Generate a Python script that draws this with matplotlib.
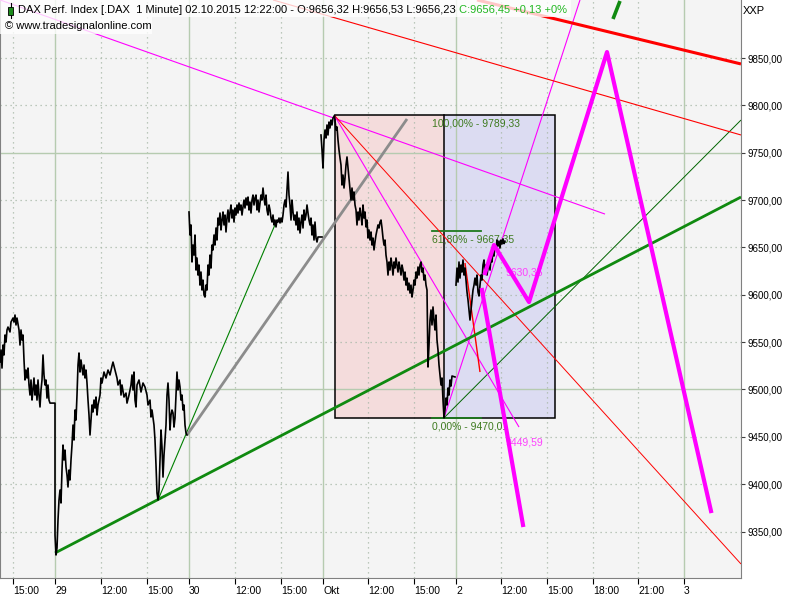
import matplotlib

matplotlib.use("Agg")
import matplotlib.pyplot as plt
from matplotlib.patches import Rectangle

BG_COLOR = "#f4f4f4"
GRID_SOLID = "#b6cbb0"
GRID_DOT = "#a9b9a9"
PRICE_COLOR = "black"
PINK_BOX = "#f4dcdc"
BLUE_BOX = "#dcdcf2"
FIB_TEXT = "#3d7a1e"
FIB_LINE = "#1e7a1e"
MAGENTA = "#ff00ff"
RED = "#ff0000"
GREEN = "#108a10"
GRAY = "#8c8c8c"
FONT = "Liberation Sans"

# x positions are chart slots (one slot ~ 4 minutes of session time)
tickPos = [13, 55, 101, 147, 189, 235, 281, 323, 368, 414, 456, 501, 547, 593, 638, 684]
tickLabels = ["15:00", "29", "12:00", "15:00", "30", "12:00", "15:00", "Okt",
              "12:00", "15:00", "2", "12:00", "15:00", "18:00", "21:00", "3"]
dayLabels = ["29", "30", "Okt", "2", "3"]
priceLevels = [9350, 9400, 9450, 9500, 9550, 9600, 9650, 9700, 9750, 9800, 9850]
solidLevels = [9500, 9750]

# 28./29.09. session (connected)
s1X = [0, 1, 2, 3, 4, 5, 6, 7, 8, 10, 11, 13, 14, 15, 16, 17, 19, 20, 21, 22, 23,
       24, 25, 26, 27, 28, 29, 30, 31, 32, 33, 34, 35, 36, 37, 38, 39, 40, 41, 42,
       43, 44, 45, 46, 47, 48, 49, 50, 55,
       55, 56, 57, 58, 59, 60, 61, 62, 63, 64, 65, 66, 67, 68, 69, 70, 71, 72, 73,
       74, 75, 76, 77, 78, 79, 80, 81, 82, 83, 84, 85, 86, 87, 88, 89, 90, 91, 92,
       93, 94, 95, 96, 97, 98, 99, 100, 101, 102, 104, 106, 108, 110, 112, 113,
       115, 117, 118, 120, 121, 122, 124, 126, 127, 129, 131, 132, 133, 134, 135,
       136, 137, 139, 141, 143, 145, 147, 148, 150, 151, 152, 154, 155, 156, 157,
       158, 159, 160, 161, 162, 163, 164, 165, 166, 167, 168, 169, 170, 171, 172,
       173, 174, 175, 176, 177, 178, 179, 180, 181, 182, 183, 184, 185, 186, 187]
s1P = [9528.9, 9541.7, 9522.6, 9546.9, 9536.4, 9557.5, 9550.1, 9562.8, 9565.9,
       9560.7, 9571.2, 9575.4, 9571.2, 9578.6, 9568.1, 9575.4, 9562.8, 9546.9,
       9562.8, 9552.2, 9557.5, 9531.1, 9510.0, 9520.5, 9512.1, 9522.6, 9504.7,
       9494.1, 9510.0, 9488.8, 9499.4, 9512.1, 9494.1, 9504.7, 9488.8, 9510.0,
       9494.1, 9481.5, 9499.4, 9510.0, 9536.4, 9515.3, 9504.7, 9510.0, 9490.9,
       9504.7, 9488.8, 9485.6, 9485.6,
       9346.3, 9325.2, 9332.6, 9362.1, 9383.3, 9393.8, 9380.1, 9414.9, 9441.3,
       9425.5, 9436.0, 9418.1, 9409.6, 9397.0, 9414.9, 9404.4, 9425.5, 9441.3,
       9462.4, 9446.6, 9478.3, 9467.7, 9494.1, 9525.8, 9538.5, 9518.4, 9531.1,
       9522.6, 9515.3, 9525.8, 9512.1, 9520.5, 9506.8, 9488.8, 9473.0, 9451.9,
       9467.7, 9483.6, 9476.2, 9488.8, 9480.4, 9492.0, 9473.0, 9483.6, 9488.8,
       9494.1, 9512.1, 9506.8, 9518.4, 9512.1, 9520.5, 9515.3, 9524.8, 9528.9,
       9520.5, 9512.1, 9504.7, 9510.0, 9494.1, 9504.7, 9492.0, 9496.2, 9485.6,
       9494.1, 9504.7, 9515.3, 9499.4, 9518.4, 9488.8, 9481.5, 9504.7, 9510.0,
       9497.3, 9506.8, 9502.6, 9494.1, 9483.6, 9488.8, 9470.9, 9478.3, 9462.4,
       9446.6, 9420.2, 9390.6, 9383.3, 9393.8, 9425.5, 9457.2, 9439.2, 9407.5,
       9430.8, 9446.6, 9462.4, 9494.1, 9506.8, 9488.8, 9457.2, 9473.0, 9478.3,
       9475.1, 9460.3, 9469.8, 9494.1, 9518.4, 9499.4, 9510.0, 9502.6, 9488.8,
       9494.1, 9478.3, 9483.6, 9462.4, 9454.0, 9451.9]

# 30.09. session
s2X = list(range(189, 319)) + [322]
s2P = [9687.4, 9663.1, 9673.7, 9634.6, 9652.5, 9641.9, 9663.1, 9626.1, 9638.8,
       9620.8, 9631.4, 9610.2, 9624.0, 9605.0, 9615.5, 9599.7, 9597.6, 9610.2,
       9605.0, 9631.4, 9620.8, 9641.9, 9628.2, 9652.5, 9647.3, 9663.1, 9652.5,
       9670.5, 9657.8, 9681.0, 9673.7, 9686.3, 9668.4, 9678.9, 9687.4, 9673.7,
       9684.2, 9666.3, 9681.0, 9689.5, 9676.8, 9687.4, 9694.8, 9681.0, 9689.5,
       9676.8, 9691.6, 9684.2, 9694.8, 9686.3, 9696.9, 9689.5, 9694.8, 9684.2,
       9692.6, 9700.0, 9691.6, 9702.2, 9694.8, 9703.2, 9689.5, 9697.9, 9686.3,
       9700.0, 9705.3, 9694.8, 9702.2, 9705.3, 9689.5, 9700.0, 9687.4, 9696.9,
       9705.3, 9700.0, 9712.7, 9702.2, 9694.8, 9705.3, 9689.5, 9684.2, 9694.8,
       9689.5, 9681.0, 9676.8, 9684.2, 9673.7, 9678.9, 9671.6, 9678.9, 9676.8,
       9681.0, 9675.8, 9681.0, 9676.8, 9684.2, 9694.8, 9700.0, 9692.6, 9710.6,
       9729.6, 9705.3, 9694.8, 9678.9, 9700.0, 9687.4, 9678.9, 9684.2, 9673.7,
       9687.4, 9668.4, 9681.0, 9665.2, 9676.8, 9684.2, 9670.5, 9689.5, 9678.9,
       9684.2, 9694.8, 9686.3, 9678.9, 9673.7, 9681.0, 9663.1, 9673.7, 9657.8,
       9676.8, 9659.9, 9655.7, 9661.0, 9661.0]

# 01.10. session
s3X = list(range(321, 334)) + [334.5] + list(range(335, 453)) + [455]
s3P = [9768.7, 9752.9, 9733.8, 9763.4, 9774.0, 9765.5, 9779.3, 9768.7, 9782.4,
       9776.1, 9784.5, 9779.3, 9786.6, 9789.3,
       9784.5, 9774.0, 9777.2, 9763.4, 9752.9, 9744.4, 9737.0, 9715.9, 9726.4,
       9712.7, 9723.3, 9737.0, 9745.5, 9733.8, 9721.2, 9710.6, 9700.0, 9712.7,
       9700.0, 9708.5, 9694.8, 9689.5, 9673.7, 9687.4, 9678.9, 9691.6, 9684.2,
       9673.7, 9694.8, 9681.0, 9687.4, 9671.6, 9678.9, 9659.9, 9668.4, 9657.8,
       9666.3, 9652.5, 9659.9, 9647.3, 9655.7, 9663.1, 9668.4, 9673.7, 9670.5,
       9676.8, 9678.9, 9670.5, 9659.9, 9652.5, 9657.8, 9641.9, 9634.6, 9620.8,
       9634.6, 9626.1, 9638.8, 9631.4, 9620.8, 9634.6, 9628.2, 9638.8, 9631.4,
       9624.0, 9634.6, 9628.2, 9620.8, 9631.4, 9626.1, 9615.5, 9624.0, 9610.2,
       9617.6, 9605.0, 9612.3, 9601.8, 9610.2, 9597.6, 9605.0, 9615.5, 9610.2,
       9624.0, 9617.6, 9629.3, 9620.8, 9631.4, 9634.6, 9624.0, 9628.2, 9615.5,
       9620.8, 9610.2, 9605.0, 9523.7, 9546.9, 9573.3, 9583.9, 9568.1, 9587.1,
       9573.3, 9562.8, 9578.6, 9552.2, 9541.7, 9525.8, 9515.3, 9504.7, 9512.1,
       9488.8, 9470.0, 9478.3, 9490.9, 9483.6, 9501.5, 9494.1, 9510.0, 9503.6,
       9514.2, 9513.2]

# 02.10. session
s4X = list(range(456, 506))
s4P = [9610.2, 9628.2, 9613.4, 9634.6, 9617.6, 9631.4, 9624.0, 9636.7, 9620.8,
       9628.2, 9615.5, 9602.9, 9594.5, 9583.9, 9573.3, 9583.9, 9594.5, 9605.0,
       9610.2, 9617.6, 9610.2, 9620.8, 9602.9, 9598.7, 9610.2, 9620.8, 9615.5,
       9631.4, 9636.7, 9624.0, 9631.4, 9620.8, 9628.2, 9634.6, 9626.1, 9638.8,
       9634.6, 9647.3, 9640.9, 9652.5, 9647.3, 9657.8, 9651.4, 9656.7, 9649.4,
       9657.8, 9653.6, 9659.0, 9654.0, 9656.5]

# Fibonacci retracement
fibStartX, fibMidX, fibEndX = 334.5, 444, 555
fibHigh, fibMid, fibLow = 9789.33, 9667.35, 9470.01

# drawn trend lines: (x0, p0, x1, p1)
thickGreen = (55, 9327.3, 741, 9703.2)
thinGreen1 = (158, 9383.3, 277, 9678.9)
thinGreen2 = (444, 9470.0, 741, 9784.5)
grayLine = (187, 9451.9, 407, 9785.6)
magentaA = (0, 9911.3, 605, 9685.2)
magentaB = (334.5, 9789.3, 519, 9460.3)
magentaC = (444, 9470.0, 580, 9911.3)
redA = (334.5, 9789.3, 741, 9315.7)
redB = (273, 9911.3, 741, 9768.7)
redThick = (477, 9911.3, 741, 9843.7)
redShort = (465, 9633.5, 480, 9518.4)
greenStub = (613, 9891.2, 620, 9910.2)

# projected paths
projX1 = [485, 494, 529, 607, 711]
projP1 = [9622.9, 9652.5, 9592.3, 9856.3, 9371.6]
projX2 = [482, 523]
projP2 = [9605.0, 9356.9]


def seg(ax, line, color, lw, z):
    ax.plot([line[0], line[2]], [line[1], line[3]], color=color, linewidth=lw,
            zorder=z, solid_capstyle="butt")


def fmtPrice(v):
    return f"{v:.2f}".replace(".", ",")


fig = plt.figure(figsize=(8, 6), dpi=100)
fig.patch.set_facecolor("white")
ax = fig.add_axes([0, 22 / 600, 741 / 800, 578 / 600])
ax.set_facecolor(BG_COLOR)
ax.set_xlim(0, 741)
ax.set_ylim(9300.9, 9911.25)

for spine in ["left", "right", "bottom"]:
    ax.spines[spine].set_color("#808080")
ax.spines["top"].set_visible(False)

ax.yaxis.tick_right()
ax.set_yticks(priceLevels, [fmtPrice(v) for v in priceLevels])
ax.set_xticks(tickPos, tickLabels, ha="left")
ax.tick_params(axis="y", length=3, width=0.8, pad=2, labelsize=7,
               colors="#404040", labelcolor="black")
ax.tick_params(axis="x", length=4, width=0.8, pad=2, labelsize=7.5,
               colors="black")
for lab in ax.get_yticklabels() + ax.get_xticklabels():
    lab.set_fontfamily(FONT)

# grid
for pos, lab in zip(tickPos, tickLabels):
    if lab in dayLabels:
        ax.axvline(pos, color=GRID_SOLID, linewidth=1.0, zorder=1)
    else:
        ax.axvline(pos, color=GRID_DOT, linewidth=0.9, linestyle=(0, (1, 3)), zorder=1)
for lvl in priceLevels:
    if lvl in solidLevels:
        ax.axhline(lvl, color=GRID_SOLID, linewidth=1.0, zorder=1)
    else:
        ax.axhline(lvl, color=GRID_DOT, linewidth=0.9, linestyle=(0, (1, 3)), zorder=1)

# fib boxes
ax.add_patch(Rectangle((fibStartX, fibLow), fibMidX - fibStartX, fibHigh - fibLow,
                       facecolor=PINK_BOX, edgecolor="none", zorder=0.5))
ax.add_patch(Rectangle((fibMidX, fibLow), fibEndX - fibMidX, fibHigh - fibLow,
                       facecolor=BLUE_BOX, edgecolor="none", zorder=0.5))
ax.add_patch(Rectangle((fibStartX, fibLow), fibEndX - fibStartX, fibHigh - fibLow,
                       facecolor="none", edgecolor="black", linewidth=1.1, zorder=2))
ax.plot([fibMidX, fibMidX], [fibLow, fibHigh], color="black", linewidth=1.1, zorder=2)
for lvl in [fibMid, fibLow]:
    ax.plot([432, 481], [lvl, lvl], color=FIB_LINE, linewidth=1.3, zorder=2.5)
fibTexts = [(fibHigh, "100,00%"), (fibMid, "61,80%"), (fibLow, "0,00%")]
for lvl, pct in fibTexts:
    ax.annotate(f"{pct} - {fmtPrice(lvl)}", (432, lvl), xytext=(0, -2.5),
                textcoords="offset points", va="top", ha="left", fontsize=7.5,
                color=FIB_TEXT, family=FONT, zorder=3)

# magenta labels
ax.text(505, 9624.0, "9630,35", fontsize=7.5, color="#ff40ff", va="center",
        family=FONT, zorder=3)
ax.text(505, 9443.5, "9449,59", fontsize=7.5, color="#ff40ff", va="center",
        family=FONT, zorder=3)

# trend lines
seg(ax, thinGreen1, "#008000", 0.8, 3)
seg(ax, thinGreen2, "#006400", 0.7, 3)
seg(ax, grayLine, GRAY, 2.0, 3)
seg(ax, magentaA, MAGENTA, 0.8, 3)
seg(ax, magentaB, MAGENTA, 0.8, 3)
seg(ax, magentaC, MAGENTA, 0.8, 3)
seg(ax, redA, RED, 0.7, 3)
seg(ax, redB, RED, 0.8, 3)
seg(ax, redThick, RED, 2.2, 3)
seg(ax, redShort, RED, 1.0, 3)
seg(ax, thickGreen, GREEN, 2.0, 3.5)
seg(ax, greenStub, GREEN, 2.6, 3.5)

# price
for xs, ps in [(s1X, s1P), (s2X, s2P), (s3X, s3P), (s4X, s4P)]:
    ax.plot(xs, ps, color=PRICE_COLOR, linewidth=1.2, zorder=4)

# projection
ax.plot(projX1, projP1, color=MAGENTA, linewidth=3.0, zorder=5)
ax.plot(projX2, projP2, color=MAGENTA, linewidth=3.0, zorder=5)

# header
fig.add_artist(Rectangle((0, 1 - 17 / 600), 571 / 800, 17 / 600,
                         transform=fig.transFigure, facecolor="white",
                         edgecolor="none", alpha=0.78, zorder=5))
fig.add_artist(Rectangle((0, 1 - 34 / 600), 152 / 800, 17 / 600,
                         transform=fig.transFigure, facecolor="white",
                         edgecolor="none", alpha=0.78, zorder=5))
fig.add_artist(Rectangle((8 / 800, 1 - 15 / 600), 5 / 800, 8 / 600,
                         transform=fig.transFigure, facecolor="#1a8a1a",
                         edgecolor="black", linewidth=0.6, zorder=6))
fig.add_artist(plt.Line2D([10.5 / 800, 10.5 / 800], [1 - 18 / 600, 1 - 3 / 600],
                          transform=fig.transFigure, color="black",
                          linewidth=0.8, zorder=5.9))
title = fig.text(18 / 800, 1 - 10 / 600,
                 "DAX Perf. Index [.DAX  1 Minute] 02.10.2015 12:22:00 - "
                 "O:9656,32 H:9656,53 L:9656,23 ",
                 fontsize=8.0, family=FONT, va="center", zorder=7)
fig.canvas.draw()
bb = title.get_window_extent(fig.canvas.get_renderer())
fig.text(bb.x1 / 800, 1 - 10 / 600, "C:9656,45 +0,13 +0%", fontsize=8.0,
         family=FONT, va="center", color="#22b822", zorder=7)
fig.text(5 / 800, 1 - 26 / 600, "\u00a9 www.tradesignalonline.com", fontsize=8.0,
         family=FONT, va="center", zorder=7)
fig.text(743 / 800, 1 - 11 / 600, "XXP", fontsize=8.0, family=FONT, va="center")

plt.savefig("out.png", dpi=100, facecolor="white")
plt.close(fig)
